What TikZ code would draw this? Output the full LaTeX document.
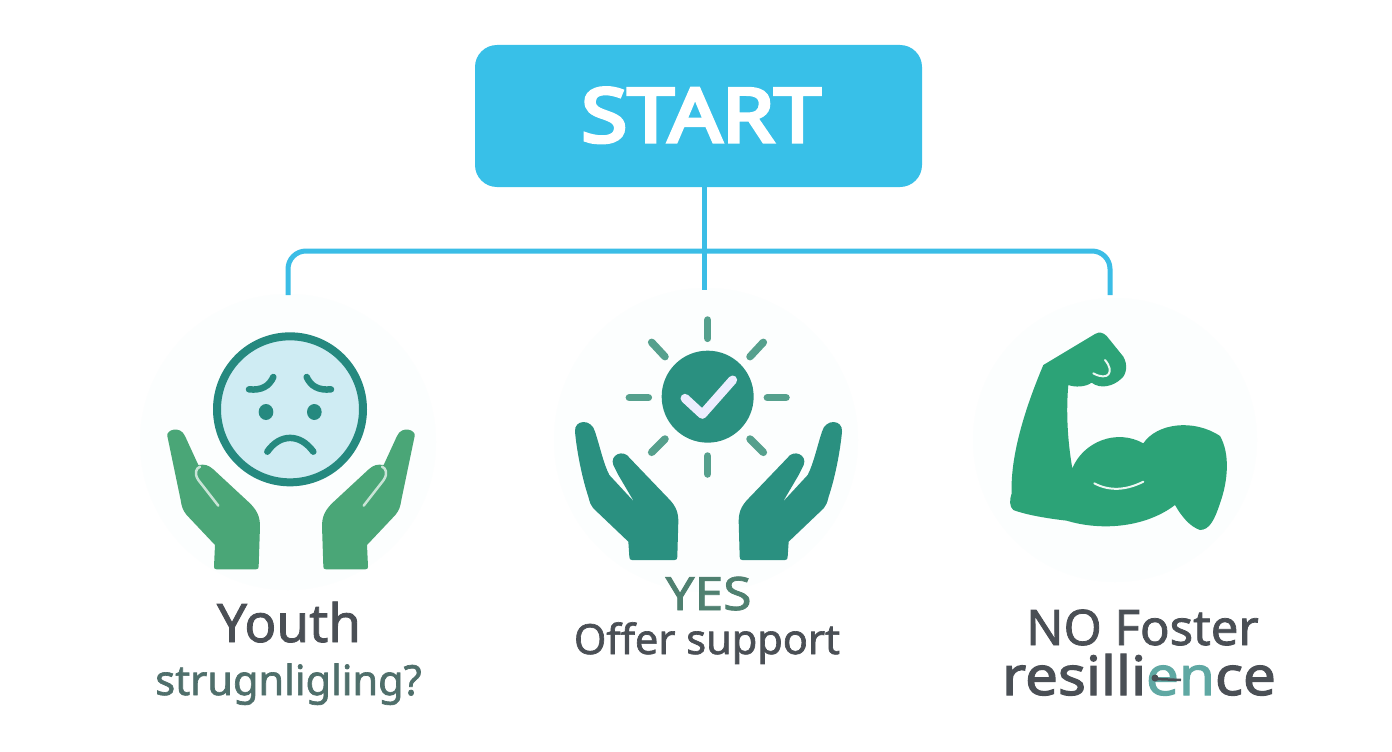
\documentclass[tikz,border=0pt]{standalone}
\usepackage{fontspec}
\setmainfont{Noto Sans}[FakeBold=1.6]
\newfontfamily\startfont{Noto Sans}[FakeBold=4.5]
\newfontfamily\heavyfont{Noto Sans}[FakeBold=2.1]
\definecolor{cyanbox}{HTML}{38C0E8}
\definecolor{conn}{HTML}{3BBDE6}
\definecolor{halo}{HTML}{FCFEFE}
\definecolor{facering}{HTML}{25897F}
\definecolor{facefill}{HTML}{CFECF3}
\definecolor{handgreen}{HTML}{4AA677}
\definecolor{handteal}{HTML}{2A9080}
\definecolor{raycol}{HTML}{55A08D}
\definecolor{armgreen}{HTML}{2CA377}
\definecolor{darktext}{HTML}{4A4F55}
\definecolor{subtext}{HTML}{4F6F6B}
\definecolor{yestext}{HTML}{4F8070}
\definecolor{tealtext}{HTML}{5FA8A3}
\definecolor{paleline}{HTML}{C8E4D6}
\tikzset{
  txt/.style={anchor=base,inner sep=0pt,outer sep=0pt},
  connector/.style={draw=conn,line width=5pt,rounded corners=18pt},
  ray/.style={draw=raycol,line width=7.5pt,line cap=round},
  facestroke/.style={draw=facering,line width=6.5pt,line cap=round},
  pale/.style={draw=paleline,line width=2.5pt,line cap=round},
  whiteline/.style={draw=white!92!armgreen,line width=2pt,line cap=round},
}
\newcommand{\sz}[1]{\fontsize{#1}{#1}\selectfont}
\begin{document}
\begin{tikzpicture}[x=1pt,y=-1pt]
\useasboundingbox (0,0) rectangle (1392,752);
\fill[white] (0,0) rectangle (1392,752);
% halos
\fill[halo] (288,442) circle (148);
\fill[halo] (706,440) circle (152);
\fill[halo] (1115,440) circle (142);
% connectors
\node[draw=none,fill=cyanbox,rounded corners=22pt,minimum width=447pt,minimum height=142pt,inner sep=0pt] (start) at (698.5,116) {};
\coordinate (lend) at (288,295);
\coordinate (mend) at (704,290);
\coordinate (rend) at (1110,295);
\coordinate (junction) at (704,251);
\draw[connector] (lend) -- (lend |- junction) -- (rend |- junction) -- (rend);
\draw[draw=conn,line width=5pt] (start.south -| mend) -- (mend);
\node[txt,text=white] (starttext) at (701,142) {\scalebox{1.12}[1]{\startfont\sz{75}START}};
% LEFT ICON
\begin{scope}[shift={(130,310)},x=1/3*1pt,y=-1/3*1pt]
  \fill[facefill] (480,298) circle (220);
  \draw[draw=facering,line width=8pt] (480,298) circle (219);
  \draw[facestroke] (357,238) .. controls (395,242) and (418,228) .. (430,201);
  \draw[facestroke] (603,238) .. controls (565,242) and (542,228) .. (530,201);
  \fill[facering] (408,306) ellipse (22 and 24);
  \fill[facering] (553,306) ellipse (22 and 24);
  \draw[facestroke] (412,425) .. controls (450,370) and (510,370) .. (550,425);
\end{scope}
\foreach \tx/\sx in {130/0.3333, 452/-0.3333}{
\begin{scope}[shift={(\tx,310)},x=\sx*1pt,y=-1/3*1pt]
  \fill[handgreen] (112,378) .. controls (108,360) and (150,345) .. (165,378)
    -- (205,465) .. controls (225,462) and (235,465) .. (250,478)
    -- (360,580) .. controls (385,605) and (390,625) .. (390,650)
    -- (386,770) .. controls (386,775) and (384,778) .. (378,778)
    -- (260,778) .. controls (254,778) and (252,775) .. (252,770)
    -- (255,705) -- (170,615) .. controls (158,600) and (155,590) .. (152,570) -- cycle;
  \draw[pale] (265,587) -- (205,510) .. controls (192,490) and (198,475) .. (210,470);
\end{scope}}
% MIDDLE ICON
\begin{scope}[shift={(550,300)},x=1/3*1pt,y=-1/3*1pt]
  \fill[handteal] (473,290) circle (138);
  \draw[draw=white!93!blue,line width=9pt,line cap=round,line join=round] (405,295) -- (457,343) -- (548,240);
  \draw[ray] (473,60) -- (473,115);
  \draw[ray] (473,468) -- (473,522);
  \draw[ray] (238,293) -- (295,293);
  \draw[ray] (652,293) -- (708,293);
  \draw[ray] (305,127) -- (345,170);
  \draw[ray] (640,127) -- (600,170);
  \draw[ray] (305,457) -- (345,417);
  \draw[ray] (640,457) -- (600,417);
\end{scope}
\foreach \tx/\sx in {550/0.3333, 867/-0.3333}{
\begin{scope}[shift={(\tx,300)},x=\sx*1pt,y=-1/3*1pt]
  \fill[handteal] (75,395) .. controls (72,358) and (125,355) .. (135,395)
    .. controls (150,440) and (160,490) .. (178,525)
    -- (252,605) -- (205,525) -- (190,495)
    .. controls (178,465) and (220,445) .. (240,475)
    -- (355,595) .. controls (380,620) and (385,640) .. (385,665)
    -- (382,770) .. controls (382,777) and (380,780) .. (374,780)
    -- (246,780) .. controls (240,780) and (238,777) .. (238,770)
    -- (235,725) -- (130,625) .. controls (122,615) and (120,610) .. (115,590)
    .. controls (95,530) and (80,450) .. (75,395) -- cycle;
\end{scope}}
% RIGHT ICON
\begin{scope}[shift={(980,310)},x=1/3*1pt,y=-1/3*1pt]
  \fill[armgreen] (190,165) -- (345,72) .. controls (358,64) and (370,68) .. (380,78)
    -- (430,140) .. controls (445,165) and (438,195) .. (425,205)
    .. controls (400,230) and (360,238) .. (335,218)
    .. controls (315,232) and (285,232) .. (265,225)
    .. controls (258,300) and (262,390) .. (277,475)
    .. controls (310,395) and (410,355) .. (490,400)
    .. controls (530,340) and (640,325) .. (720,378)
    .. controls (750,430) and (745,510) .. (720,580)
    .. controls (705,625) and (690,660) .. (660,660)
    .. controls (630,650) and (605,620) .. (585,585)
    .. controls (500,650) and (370,665) .. (260,632)
    .. controls (200,625) and (140,615) .. (100,600)
    .. controls (88,590) and (88,570) .. (95,550)
    .. controls (90,420) and (150,260) .. (190,165) -- cycle;
  \draw[whiteline] (375,150) .. controls (405,185) and (385,215) .. (340,190);
  \draw[whiteline] (343,520) .. controls (390,545) and (440,540) .. (490,515);
\end{scope}
% TEXT
\node[txt,text=darktext] (youth) at (289,642) {\sz{53}Youth};
\node[txt,text=subtext] (struggle) at (288.5,695) {\sz{41.5}strugnligling?};
\node[txt,text=yestext] (yes) at (708.5,610) {\scalebox{1.12}[1]{\sz{46}YES}};
\node[txt,text=darktext] (offer) at (707,654) {\sz{41.5}Offer support};
\node[txt,text=darktext] (nofoster) at (1142.5,645) {\sz{49}NO Foster};
\node[txt,text=darktext] (resil) at (1139,695) {\scalebox{1.08}[1]{\heavyfont\sz{54}resilli\textcolor{tealtext}{en}ce}};
\fill[darktext] (1155,678) circle (3.5);
\draw[darktext,line width=2.5pt] (1155,679) -- (1181,680);
\end{tikzpicture}
\end{document}
